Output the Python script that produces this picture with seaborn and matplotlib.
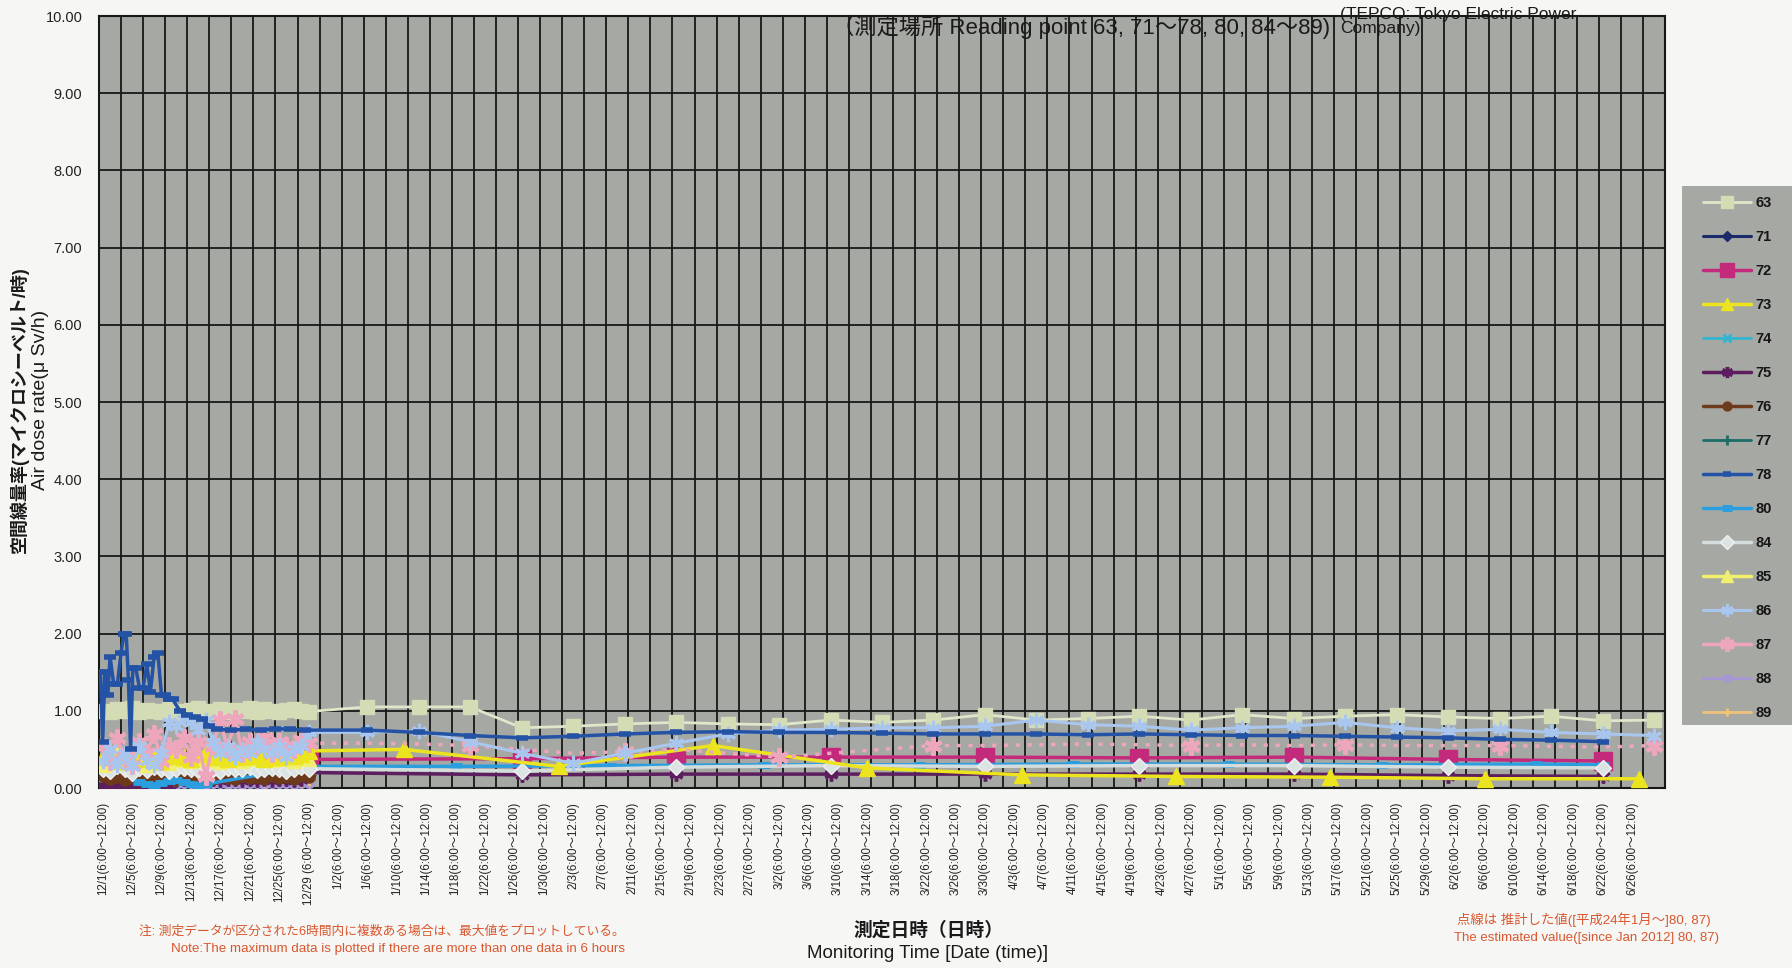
import numpy as np
import pandas as pd
import matplotlib
matplotlib.use("Agg")
import matplotlib.pyplot as plt
from matplotlib.lines import Line2D
from matplotlib.patches import Rectangle
import seaborn as sns

sns.set_theme(style="white")
plt.rcParams["font.family"] = ["Liberation Sans", "Noto Sans CJK JP", "DejaVu Sans"]
plt.rcParams["axes.unicode_minus"] = False

# ---------------------------------------------------------------- dates
tick_days = ["12/1", "12/5", "12/9", "12/13", "12/17", "12/21", "12/25", "12/29",
             "1/2", "1/6", "1/10", "1/14", "1/18", "1/22", "1/26", "1/30",
             "2/3", "2/7", "2/11", "2/15", "2/19", "2/23", "2/27",
             "3/2", "3/6", "3/10", "3/14", "3/18", "3/22", "3/26", "3/30",
             "4/3", "4/7", "4/11", "4/15", "4/19", "4/23", "4/27",
             "5/1", "5/5", "5/9", "5/13", "5/17", "5/21", "5/25", "5/29",
             "6/2", "6/6", "6/10", "6/14", "6/18", "6/22", "6/26"]

dec_days = [f"12/{d}" for d in range(1, 30)]
weekly = ["1/6", "1/13", "1/20", "1/27", "2/3", "2/10", "2/17", "2/24", "3/2", "3/9",
          "3/16", "3/23", "3/30", "4/6", "4/13", "4/20", "4/27", "5/4", "5/11", "5/18",
          "5/25", "6/1", "6/8", "6/15", "6/22", "6/29"]
triweekly = ["12/29", "1/27", "2/17", "3/9", "3/30", "4/20", "5/11", "6/1", "6/22"]
days_73 = ["1/11", "2/1", "2/22", "3/14", "4/4", "4/25", "5/16", "6/6", "6/27"]
days_80 = ["12/29", "1/18", "2/8", "2/29", "3/21", "4/11", "5/2", "5/23", "6/13", "6/22"]

# ---------------------------------------------------------------- values (μSv/h)
v63_dec = [1.00, 0.98, 1.02, 1.00, 1.03, 0.99, 1.01, 1.00, 0.98, 1.02, 1.00, 0.97, 1.01, 1.03, 0.99,
           1.00, 1.02, 0.98, 1.01, 1.00, 1.03, 0.99, 1.02, 1.00, 0.98, 1.01, 1.02, 1.00, 0.99]
v63_wk = [1.05, 1.05, 1.05, 0.78, 0.80, 0.83, 0.85, 0.83, 0.82, 0.88, 0.85, 0.88, 0.95,
          0.88, 0.90, 0.93, 0.88, 0.95, 0.90, 0.93, 0.95, 0.92, 0.90, 0.93, 0.87, 0.88]

v71_dec = [0.10, 0.08, 0.12, 0.09, 0.11, 0.10, 0.08, 0.12, 0.10, 0.09, 0.11, 0.10, 0.12, 0.09, 0.10,
           0.11, 0.08, 0.10, 0.12, 0.09, 0.11, 0.10, 0.09, 0.12, 0.10, 0.11, 0.09, 0.10, 0.11]

v72_tri = [0.37, 0.38, 0.40, 0.40, 0.40, 0.39, 0.40, 0.37, 0.35]

v73_dec = [0.40, 0.45, 0.35, 0.42, 0.48, 0.38, 0.45, 0.40, 0.35, 0.42, 0.45, 0.40, 0.38, 0.44, 0.46,
           0.40, 0.42, 0.38, 0.45, 0.40, 0.44, 0.42, 0.38, 0.45, 0.40, 0.43, 0.41, 0.44, 0.48]
v73_pts = [0.50, 0.28, 0.55, 0.26, 0.17, 0.15, 0.14, 0.12, 0.12]

v74_dec = [0.30, 0.28, 0.33, 0.29, 0.31, 0.27, 0.32, 0.30, 0.28, 0.31, 0.29, 0.33, 0.30, 0.28, 0.31,
           0.30, 0.29, 0.32, 0.30, 0.28, 0.31, 0.29, 0.30, 0.32, 0.28, 0.30, 0.31, 0.29, 0.30]

v75_dec = [0.03, 0.03, 0.02, 0.03, 0.03, 0.02, 0.03, 0.03, 0.02, 0.03, 0.10, 0.12, 0.11, 0.12, 0.10,
           0.12, 0.11, 0.12, 0.12, 0.11, 0.12, 0.10, 0.12, 0.11, 0.12, 0.12, 0.11, 0.12]
v75_tri = [0.20, 0.17, 0.18, 0.18, 0.18, 0.18, 0.18, 0.16, 0.15]

v76_dec = [0.15, 0.12, 0.14, 0.10, 0.13, 0.11, 0.14, 0.12, 0.15, 0.13, 0.11, 0.14, 0.12, 0.13, 0.15,
           0.12, 0.14, 0.13, 0.12, 0.15, 0.13, 0.14, 0.12, 0.15, 0.13, 0.14, 0.12, 0.15, 0.14]

v77_dec = [0.12, 0.14, 0.11, 0.13, 0.12, 0.15, 0.12, 0.13, 0.11, 0.14, 0.12, 0.13, 0.14, 0.12, 0.11,
           0.13, 0.12, 0.14, 0.13, 0.12, 0.11, 0.13, 0.14, 0.12, 0.13, 0.12, 0.14, 0.13, 0.12]

# reading point 78: spiky in early December (two readings a day), weekly afterwards
days_78_dec = [0.2, 0.5, 0.8, 1.2, 1.5, 2.0, 2.5, 3.0, 3.4, 3.7, 4.0, 4.3, 4.6, 5.0, 5.5, 6.0, 6.5,
               7.0, 7.5, 8.0, 8.5, 9.0, 9.5, 10.0, 11.0, 12.0, 13.0, 14.0, 15.0, 16.0, 18.0, 20.0,
               22.0, 24.0, 26.0, 28.0]
v78_dec = [1.50, 0.60, 1.50, 1.20, 1.70, 1.35, 1.35, 1.75, 2.00, 2.00, 1.40, 0.50, 1.55, 1.55, 1.30,
           1.30, 1.60, 1.25, 1.70, 1.75, 1.20, 1.20, 1.15, 1.15, 1.00, 0.95, 0.92, 0.90, 0.80, 0.76,
           0.75, 0.76, 0.75, 0.77, 0.76, 0.75]
v78_wk = [0.75, 0.72, 0.68, 0.65, 0.67, 0.70, 0.72, 0.73, 0.72, 0.72, 0.71, 0.70, 0.70,
          0.70, 0.69, 0.70, 0.69, 0.68, 0.68, 0.67, 0.66, 0.65, 0.63, 0.62, 0.60]

days_80_dec = ["12/6", "12/7", "12/8", "12/9", "12/10", "12/11", "12/12", "12/13", "12/14", "12/15"]
v80_dec = [0.08, 0.05, 0.04, 0.06, 0.09, 0.10, 0.08, 0.05, 0.04, 0.05]
v80_pts = [0.28, 0.28, 0.29, 0.30, 0.30, 0.31, 0.31, 0.30, 0.31, 0.30]

v84_dec = [0.25, 0.22, 0.28, 0.24, 0.20, 0.26, 0.23, 0.27, 0.25, 0.22, 0.24, 0.26, 0.25, 0.23, 0.27,
           0.24, 0.22, 0.26, 0.25, 0.24, 0.27, 0.23, 0.25, 0.26, 0.24, 0.22, 0.25, 0.27]
v84_tri = [0.25, 0.22, 0.27, 0.29, 0.28, 0.29, 0.29, 0.27, 0.26]

v85_dec = [0.30, 0.38, 0.45, 0.32, 0.40, 0.35, 0.30, 0.42, 0.38, 0.33, 0.36, 0.40, 0.35, 0.38, 0.42,
           0.36, 0.34, 0.40, 0.38, 0.35, 0.40, 0.37, 0.42, 0.36, 0.38, 0.40, 0.35, 0.39, 0.37]

v86_dec = [0.35, 0.50, 0.30, 0.45, 0.28, 0.55, 0.35, 0.30, 0.45, 0.85, 0.80, 0.90, 0.85, 0.75, 0.88,
           0.60, 0.45, 0.55, 0.40, 0.50, 0.45, 0.60, 0.50, 0.45, 0.55, 0.40, 0.50, 0.55, 0.72]
v86_wk = [0.72, 0.74, 0.60, 0.45, 0.32, 0.45, 0.58, 0.70, 0.75, 0.76, 0.78, 0.78, 0.80,
          0.88, 0.82, 0.80, 0.75, 0.78, 0.80, 0.85, 0.78, 0.74, 0.76, 0.72, 0.70, 0.68]

v87_dec = [0.55, 0.35, 0.65, 0.40, 0.30, 0.60, 0.45, 0.70, 0.35, 0.55, 0.50, 0.65, 0.40, 0.60, 0.15,
           0.55, 0.88, 0.50, 0.90, 0.45, 0.60, 0.55, 0.65, 0.45, 0.60, 0.55, 0.50, 0.62, 0.58]
v87_wk = [0.58, 0.57, 0.55, 0.50, 0.45, 0.47, 0.50, 0.45, 0.40, 0.45, 0.50, 0.55, 0.55,
          0.56, 0.57, 0.56, 0.55, 0.56, 0.55, 0.56, 0.55, 0.55, 0.55, 0.54, 0.53, 0.55]
marks_87 = [2, 5, 8, 11, 16, 19, 22, 25]

v88_dec = [0.06, 0.05, 0.07, 0.06, 0.05, 0.07, 0.06, 0.05, 0.06, 0.07, 0.05, 0.06, 0.07, 0.06, 0.05,
           0.06, 0.07, 0.05, 0.06, 0.05, 0.07, 0.06, 0.05, 0.06, 0.07, 0.06, 0.05, 0.06, 0.07]
v89_dec = [0.10, 0.12, 0.09, 0.11, 0.10, 0.12, 0.10, 0.09, 0.11, 0.10, 0.12, 0.11, 0.09, 0.10, 0.12,
           0.11, 0.10, 0.09, 0.11, 0.12, 0.10, 0.11, 0.09, 0.10, 0.12, 0.11, 0.10, 0.09, 0.11]


def day_of(md):
    """Days since 1 Dec 2011 (centre of the day) for an 'M/D' string."""
    m, d = (int(p) for p in md.split("/"))
    year = 2011 if m == 12 else 2012
    return (pd.Timestamp(year, m, d) - pd.Timestamp(2011, 12, 1)).days + 0.5


def xs(dates):
    return [day_of(s) for s in dates]


STAR = (6, 2, 0)
styles = {
    "63": dict(color="#dfe6c9", marker="s", ms=10, mfc="#d3dcb5", mec="#d3dcb5", lw=2.0),
    "71": dict(color="#1b2a6b", marker="D", ms=6, mfc="#1b2a6b", mec="#1b2a6b", lw=2.2),
    "72": dict(color="#c42a7c", marker="s", ms=12.5, mfc="#c42a7c", mec="#c42a7c", lw=2.5),
    "73": dict(color="#ece41e", marker="^", ms=11, mfc="#ece41e", mec="#ece41e", lw=2.5),
    "74": dict(color="#35b4d2", marker="x", ms=8, mfc="#35b4d2", mec="#35b4d2", lw=2.0, mew=2),
    "75": dict(color="#5c1e5e", marker=STAR, ms=10, mfc="#5c1e5e", mec="#5c1e5e", lw=2.5, mew=2.5),
    "76": dict(color="#6e3a1c", marker="o", ms=8, mfc="#6e3a1c", mec="#6e3a1c", lw=2.5),
    "77": dict(color="#1d6e68", marker="+", ms=9, mfc="#1d6e68", mec="#1d6e68", lw=2.0, mew=2),
    "78": dict(color="#2452a4", marker="_", ms=8, mfc="#2452a4", mec="#2452a4", lw=2.5, mew=4),
    "80": dict(color="#2a9ede", marker="_", ms=9, mfc="#2a9ede", mec="#2a9ede", lw=2.5, mew=5),
    "84": dict(color="#d4dcdc", marker="D", ms=8.5, mfc="#dce3e3", mec="#eef0f0", lw=2.5),
    "85": dict(color="#f2ee6e", marker="^", ms=10, mfc="#f2ee6e", mec="#f2ee6e", lw=2.5),
    "86": dict(color="#a9c6ee", marker=STAR, ms=11, mfc="#a9c6ee", mec="#a9c6ee", lw=2.2, mew=2.2),
    "87": dict(color="#eea6bc", marker=STAR, ms=13, mfc="#eea6bc", mec="#eea6bc", lw=2.5, mew=3),
    "88": dict(color="#a696d6", marker="o", ms=7, mfc="#a696d6", mec="#a696d6", lw=2.0),
    "89": dict(color="#f0c27a", marker="+", ms=8, mfc="#f0c27a", mec="#f0c27a", lw=2.0, mew=2),
}

series = {
    "63": (xs(dec_days) + xs(weekly), v63_dec + v63_wk),
    "71": (xs(dec_days), v71_dec),
    "72": (xs(triweekly), v72_tri),
    "73": (xs(dec_days) + xs(days_73), v73_dec + v73_pts),
    "74": (xs(dec_days), v74_dec),
    "75": (xs(dec_days[:-1]) + xs(triweekly), v75_dec + v75_tri),
    "76": (xs(dec_days), v76_dec),
    "77": (xs(dec_days), v77_dec),
    "78": (days_78_dec + xs(weekly[:-1]), v78_dec + v78_wk),
    "80": (xs(days_80_dec) + xs(days_80), v80_dec + v80_pts),
    "84": (xs(dec_days[:-1]) + xs(triweekly), v84_dec + v84_tri),
    "85": (xs(dec_days), v85_dec),
    "86": (xs(dec_days) + xs(weekly), v86_dec + v86_wk),
    "87": (xs(dec_days), v87_dec),
    "88": (xs(dec_days), v88_dec),
    "89": (xs(dec_days), v89_dec),
}
draw_order = ["71", "77", "88", "89", "75", "76", "74", "72", "80", "84", "85", "73",
              "63", "87", "86", "78"]

# ---------------------------------------------------------------- figure
W, H = 1792, 968
fig = plt.figure(figsize=(W / 100, H / 100), dpi=100)
fig.patch.set_facecolor("#f6f6f4")


def fx(px):
    return px / W


def fy(py):
    return 1 - py / H


ax = fig.add_axes([fx(99), fy(788), fx(1665) - fx(99), fy(16) - fy(788)])
ax.set_facecolor("#a6a8a3")
ax.set_xlim(0, 213)
ax.set_ylim(0, 10)

for z, key in enumerate(draw_order):
    st = styles[key]
    xv, yv = series[key]
    sns.lineplot(x=xv, y=yv, ax=ax, estimator=None, sort=False, legend=False,
                 color=st["color"], linewidth=st["lw"], marker=st["marker"],
                 markersize=st["ms"], markerfacecolor=st["mfc"],
                 markeredgecolor=st["mec"], markeredgewidth=st.get("mew", 1.0),
                 zorder=3 + z * 0.1)
    if key == "87":
        # estimated values since January: dotted line, asterisks at measured days
        wx = [series["87"][0][-1]] + xs(weekly)
        wy = [v87_dec[-1]] + v87_wk
        sns.lineplot(x=wx, y=wy, ax=ax, estimator=None, sort=False, legend=False,
                     color=st["color"], linewidth=2.5, linestyle=(0, (1.2, 2.2)),
                     zorder=3 + z * 0.1)
        ax.plot([xs(weekly)[i] for i in marks_87], [v87_wk[i] for i in marks_87],
                linestyle="none", marker=STAR, ms=st["ms"], mfc=st["mfc"], mec=st["mec"],
                mew=st["mew"], zorder=3 + z * 0.1)

# grid: vertical every 3 days, horizontal every 1.0
ax.set_xticks(np.arange(0, 214, 3), minor=True)
ax.set_xticks(xs(tick_days))
ax.set_xticklabels([f"{t}(6:00～12:00)" if t != "12/29" else "12/29 (6:00～12:00)"
                    for t in tick_days], rotation=90, fontsize=8.3, color="#222222")
ax.set_yticks(np.arange(0, 11, 1))
ax.set_yticklabels([f"{v:.2f}" for v in range(0, 11)], fontsize=10.5, color="#222222")
ax.grid(False)
ax.grid(True, which="minor", axis="x", color="#161816", lw=1.3, zorder=1)
ax.grid(True, which="major", axis="y", color="#161816", lw=1.3, zorder=1)
ax.tick_params(axis="both", which="both", length=0)
ax.tick_params(axis="x", pad=10)
ax.tick_params(axis="y", pad=12)
for sp in ax.spines.values():
    sp.set_color("#161816")
    sp.set_linewidth(1.5)

# heading inside the plot area
ax.text(fx(832), fy(27), "（測定場所 Reading point 63, 71～78, 80, 84～89)",
        transform=fig.transFigure, fontsize=16, color="#1a1a1a", va="center", ha="left",
        zorder=10)
ax.text(fx(1340), fy(7), "(TEPCO: Tokyo Electric Power\nCompany)",
        transform=fig.transFigure, fontsize=12.5, color="#1a1a1a", va="top", ha="left",
        linespacing=0.95, zorder=10)

# axis titles
fig.text(fx(19), fy(410), "空間線量率(マイクロシーベルト/時)", rotation=90,
         fontsize=13, fontweight="bold", color="#1a1a1a", ha="center", va="center")
fig.text(fx(41), fy(400), "Air dose rate(μ Sv/h)", rotation=90,
         fontsize=14, color="#1a1a1a", ha="center", va="center")
fig.text(fx(928), fy(930), "測定日時（日時）", fontsize=13.5, fontweight="bold",
         color="#1a1a1a", ha="center", va="center")
fig.text(fx(928), fy(953), "Monitoring Time [Date (time)]", fontsize=13.5,
         color="#1a1a1a", ha="center", va="center")

# footnotes
NOTE = "#d9572e"
fig.text(fx(139), fy(932), "注: 測定データが区分された6時間内に複数ある場合は、最大値をプロットしている。",
         fontsize=9.2, color=NOTE, ha="left", va="center")
fig.text(fx(171), fy(949), "Note:The maximum data is plotted if there are more than one data in 6 hours",
         fontsize=9.6, color=NOTE, ha="left", va="center")
fig.text(fx(1457), fy(920), "点線は 推計した値([平成24年1月～]80, 87)",
         fontsize=9.6, color=NOTE, ha="left", va="center")
fig.text(fx(1454), fy(938), "The estimated value([since Jan 2012] 80, 87)",
         fontsize=9.5, color=NOTE, ha="left", va="center")

# legend panel
fig.add_artist(Rectangle((fx(1682), fy(725)), fx(1792) - fx(1682), fy(186) - fy(725),
                         transform=fig.transFigure, facecolor="#a6a8a3", edgecolor="none",
                         zorder=0))
handles = []
labels = []
for key in styles:
    st = styles[key]
    handles.append(Line2D([0], [0], color=st["color"], lw=st["lw"], marker=st["marker"],
                          ms=st["ms"] * 0.8, mfc=st["mfc"], mec=st["mec"],
                          mew=st.get("mew", 1.0)))
    labels.append(key)
leg = fig.legend(handles, labels, loc="upper left", bbox_to_anchor=(fx(1696), fy(189)),
                 frameon=False, fontsize=10.5, labelspacing=1.37,
                 handlelength=3.3, handletextpad=0.3, borderpad=0.5, borderaxespad=0)
for t in leg.get_texts():
    t.set_fontweight("bold")
    t.set_color("#161616")

fig.savefig("out.png", dpi=100, facecolor=fig.get_facecolor())
